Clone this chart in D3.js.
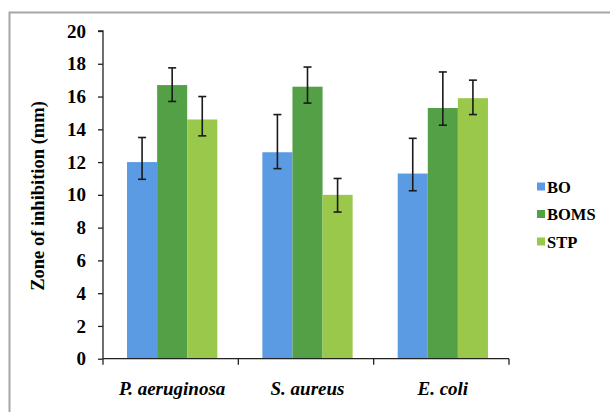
<!DOCTYPE html>
<html><head><meta charset="utf-8">
<script src="https://cdn.jsdelivr.net/npm/d3@7"></script>
<style>body{margin:0;background:#fff}svg{display:block}</style>
</head><body>
<script>
const categories = ["P. aeruginosa", "S. aureus", "E. coli"];
const seriesNames = ["BO", "BOMS", "STP"];
const colors = ["#5B9BE3", "#54A046", "#9AC84A"];
const BO = [12.0, 12.6, 11.3];
const BOMS = [16.7, 16.6, 15.3];
const STP = [14.6, 10.0, 15.9];
const BO_errUp = [1.5, 2.3, 2.15];
const BO_errDown = [1.05, 1.0, 1.05];
const BOMS_errUp = [1.05, 1.2, 2.2];
const BOMS_errDown = [1.0, 1.0, 1.05];
const STP_errUp = [1.4, 1.0, 1.1];
const STP_errDown = [1.0, 1.05, 1.0];
const yTicks = [0, 2, 4, 6, 8, 10, 12, 14, 16, 18, 20];

const series = [
  {name: "BO", values: BO, up: BO_errUp, down: BO_errDown},
  {name: "BOMS", values: BOMS, up: BOMS_errUp, down: BOMS_errDown},
  {name: "STP", values: STP, up: STP_errUp, down: STP_errDown}
];

const W = 610, H = 412;
const FONT = '"Liberation Serif"';
const svg = d3.select("body").append("svg").attr("width", W).attr("height", H);
function styleText(sel, size) {
  return sel.style("font-family", FONT).style("font-weight", "bold").style("font-size", size + "px").attr("fill", "#000");
}

// frame
svg.append("path").attr("d", "M9.5,420 L9.5,12.5 L620,12.5")
  .attr("fill", "none").attr("stroke", "#a6a6a6").attr("stroke-width", 2);

const x0 = d3.scaleBand().domain(categories).range([104.5, 510.5]).paddingInner(0.333).paddingOuter(0.1665);
const x1 = d3.scaleBand().domain(seriesNames).range([0, x0.bandwidth()]);
const y = d3.scaleLinear().domain([0, 20]).range([358.7, 31]);

// bars
series.forEach((s, si) => {
  const g = svg.append("g");
  categories.forEach((c, ci) => {
    const bx = x0(c) + x1(s.name);
    g.append("rect").attr("x", bx).attr("y", y(s.values[ci]))
      .attr("width", x1.bandwidth()).attr("height", y(0) - y(s.values[ci]))
      .attr("fill", colors[si]);
  });
});
// error bars
series.forEach((s, si) => {
  categories.forEach((c, ci) => {
    const cx = x0(c) + x1(s.name) + x1.bandwidth() / 2;
    const top = y(s.values[ci] + s.up[ci]), bot = y(s.values[ci] - s.down[ci]);
    const g = svg.append("g").attr("stroke", "#1a1a1a").attr("stroke-width", 1.6);
    g.append("line").attr("x1", cx).attr("x2", cx).attr("y1", top).attr("y2", bot);
    g.append("line").attr("x1", cx - 4).attr("x2", cx + 4).attr("y1", top).attr("y2", top);
    g.append("line").attr("x1", cx - 4).attr("x2", cx + 4).attr("y1", bot).attr("y2", bot);
  });
});

// y axis
const yAxis = svg.append("g").attr("transform", "translate(103,0)")
  .call(d3.axisLeft(y).tickValues(yTicks).tickSize(5).tickPadding(12));
yAxis.attr("font-family", null).attr("font-size", null);
yAxis.select(".domain").attr("stroke", "#222").attr("stroke-width", 1.3).attr("d", "M-5,31H0V358.7");
yAxis.selectAll(".tick line").attr("stroke", "#222").attr("stroke-width", 1.3);
styleText(yAxis.selectAll(".tick text"), 19);

// x axis
const xAxis = svg.append("g").attr("transform", "translate(0,358.7)");
xAxis.append("line").attr("x1", 103).attr("x2", 509).attr("y1", 0).attr("y2", 0)
  .attr("stroke", "#222").attr("stroke-width", 1.3);
const xb = [103].concat(categories.map(c => x0(c) + x0.bandwidth() + x0.step() * x0.paddingInner() / 2 - 1.5));
xb[xb.length - 1] = 509;
xb.forEach(v => xAxis.append("line").attr("x1", v).attr("x2", v).attr("y1", 0).attr("y2", 6)
  .attr("stroke", "#222").attr("stroke-width", 1.3));
categories.forEach(c => {
  styleText(xAxis.append("text"), 19).attr("x", x0(c) + x0.bandwidth() / 2).attr("y", 36)
    .attr("text-anchor", "middle").style("font-style", "italic").text(c);
});

// y title
styleText(svg.append("text"), 18.5).attr("transform", "translate(44,196) rotate(-90)")
  .attr("text-anchor", "middle").text("Zone of inhibition  (mm)");

// legend
const leg = svg.append("g").attr("transform", "translate(537,0)");
seriesNames.forEach((n, i) => {
  const cy = 186.5 + i * 27.5;
  leg.append("rect").attr("x", 0).attr("y", cy - 4).attr("width", 8).attr("height", 8).attr("fill", colors[i]);
  styleText(leg.append("text"), 16.5).attr("x", 10).attr("y", cy + 6).text(n);
});
</script>
</body></html>
